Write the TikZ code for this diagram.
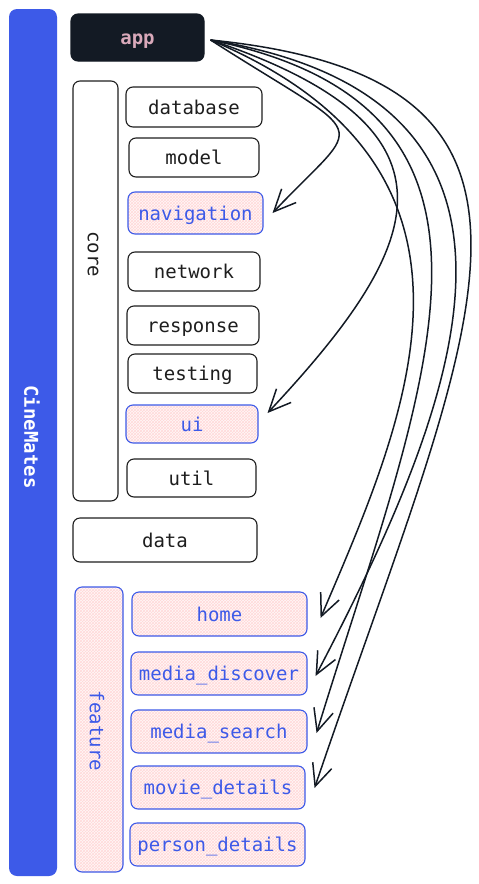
\documentclass[tikz,border=0pt]{standalone}
\usepackage{fontspec}
\setmonofont{DejaVu Sans Mono}
\usetikzlibrary{arrows.meta,patterns}

\definecolor{cmblue}{HTML}{3D5AE8}
\definecolor{appdark}{HTML}{131A24}
\definecolor{apppink}{HTML}{D9A9BA}
\definecolor{inkdark}{HTML}{1E1E1E}

\newcommand{\rowh}{39pt}
\newcommand{\modfont}{\ttfamily\fontsize{19}{22}\selectfont}

\tikzset{
  modbox/.style={draw=inkdark, line width=1.1pt, rounded corners=7pt, fill=white,
    inner sep=0pt, minimum height=\rowh, text height=18pt, text depth=4pt,
    text=inkdark, font=\modfont},
  featbox/.style={modbox, draw=cmblue, text=cmblue, preaction={fill=red!3},
    pattern=crosshatch, pattern color=red!15},
  grplabel/.style={rotate=-90, inner sep=0pt, font=\modfont},
  dep/.style={draw=appdark, line width=1.5pt, -{Straight Barb[length=22pt,width=20pt]}},
}

\begin{document}
\begin{tikzpicture}[x=1pt, y=-1pt]
  \useasboundingbox (0,0) rectangle (479,884);

  \node [fill=cmblue, rounded corners=8pt, minimum width=48pt, minimum height=867pt, inner sep=0pt] (cinemates) at (33,442.5) {};
  \node [grplabel, text=white, font=\modfont\bfseries] (cinemateslbl) at (32,437) {CineMates};

  \node [modbox, fill=appdark, draw=appdark, text=apppink, font=\modfont\bfseries, minimum width=133pt, minimum height=47pt] (app) at (137.5,37.5) {app};

  \node [modbox, minimum width=45pt, minimum height=420pt] (core) at (95.5,291) {};
  \node [grplabel, text=inkdark] (corelbl) at (93,254) {core};

  \node [modbox, minimum width=136pt, minimum height=40pt] (database) at (194,107) {database};
  \node [modbox, minimum width=130pt] (model) at (194,157.5) {model};
  \node [featbox, minimum width=135pt, minimum height=42pt] (navigation) at (195.5,213) {navigation};
  \node [modbox, minimum width=132pt] (network) at (194,271.5) {network};
  \node [modbox, minimum width=132pt] (response) at (193,325.5) {response};
  \node [modbox, minimum width=129pt] (testing) at (192.5,373.5) {testing};
  \node [featbox, minimum width=132pt, minimum height=38pt] (ui) at (192,424) {ui};
  \node [modbox, minimum width=129pt, minimum height=38pt] (util) at (191.5,478) {util};

  \node [modbox, minimum width=184pt, minimum height=44pt] (data) at (165,540) {data};

  \node [featbox, minimum width=48pt, minimum height=285pt] (feature) at (99,729.5) {};
  \node [grplabel, text=cmblue] (featurelbl) at (97,731) {feature};

  \node [featbox, minimum width=175pt, minimum height=44pt] (home) at (219.5,614) {home};
  \node [featbox, minimum width=176pt, minimum height=43pt] (mediadiscover) at (219,673.5) {media\_discover};
  \node [featbox, minimum width=176pt, minimum height=43pt] (mediasearch) at (219,731.5) {media\_search};
  \node [featbox, minimum width=174pt, minimum height=43pt] (moviedetails) at (218,787.5) {movie\_details};
  \node [featbox, minimum width=175pt, minimum height=43pt] (persondetails) at (217.5,844.5) {person\_details};

  \draw [dep] ([shift={(6,2.5)}]app.east) .. controls (375,145) and (365,115) .. ([xshift=9pt]navigation.east);
  \draw [dep] ([shift={(6,2.5)}]app.east) .. controls (480,130) and (420,250) .. ([shift={(9,-11)}]ui.east);
  \draw [dep] ([shift={(6,2.5)}]app.east) .. controls (520,170) and (405,420) .. ([shift={(13,4)}]home.east);
  \draw [dep] ([shift={(6,2.5)}]app.east) .. controls (580,100) and (460,400) .. ([shift={(8,2.5)}]mediadiscover.east);
  \draw [dep] ([shift={(6,2.5)}]app.east) .. controls (550,110) and (425,380) .. ([shift={(9,1.5)}]mediasearch.east);
  \draw [dep] ([shift={(6,2.5)}]app.east) .. controls (610,80) and (470,330) .. ([shift={(9,0.5)}]moviedetails.east);
\end{tikzpicture}
\end{document}
